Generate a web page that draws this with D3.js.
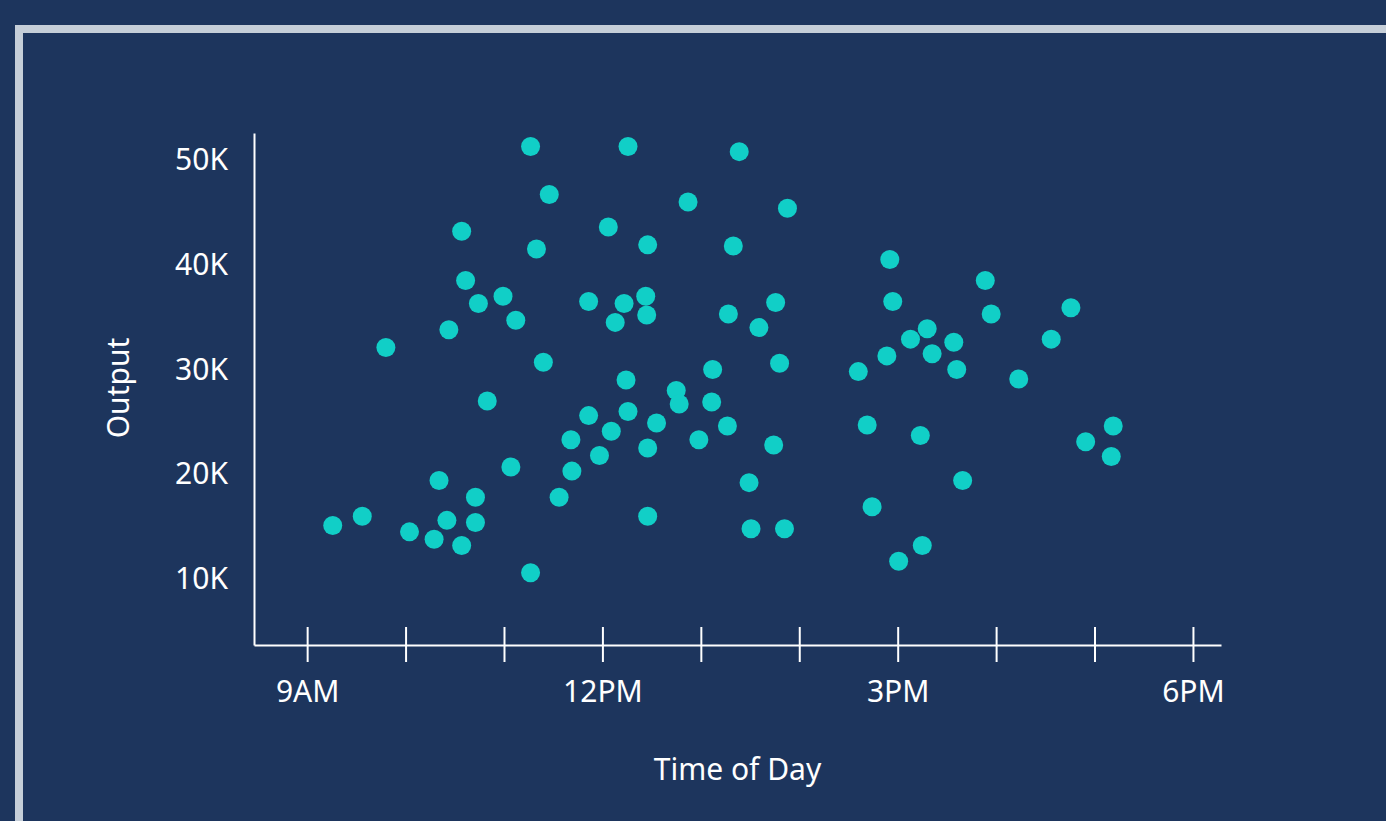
<!DOCTYPE html>
<html>
<head>
<meta charset="utf-8">
<script src="https://cdn.jsdelivr.net/npm/d3@7"></script>
<style>
  html, body { margin: 0; padding: 0; background: #1d355d; overflow: hidden; }
  svg text { font-family: "Source Sans Pro", "Noto Sans", sans-serif; fill: #ffffff; }
</style>
</head>
<body>
<div class="chart"></div>
<script>
// Hour of day (decimal) for each reading
var timeOfDay = [9.26, 9.56, 9.80, 10.04, 10.29, 10.34, 10.42, 10.44, 10.57, 10.57,
    10.61, 10.71, 10.71, 10.74, 10.83, 10.99, 11.07, 11.12, 11.27, 11.27,
    11.33, 11.40, 11.46, 11.56, 11.68, 11.69, 11.86, 11.86, 11.97, 12.06,
    12.09, 12.13, 12.22, 12.24, 12.26, 12.26, 12.44, 12.45, 12.46, 12.46,
    12.46, 12.55, 12.75, 12.78, 12.87, 12.98, 13.11, 13.12, 13.27, 13.28,
    13.33, 13.39, 13.49, 13.51, 13.59, 13.74, 13.76, 13.80, 13.85, 13.88,
    14.60, 14.69, 14.74, 14.89, 14.92, 14.95, 15.01, 15.13, 15.23, 15.25,
    15.30, 15.35, 15.57, 15.60, 15.66, 15.89, 15.95, 16.23, 16.56, 16.76,
    16.91, 17.17, 17.19];

// Output value for each reading
var output = [15100, 16000, 32100, 14500, 13800, 19400, 15600, 33800, 43200, 13200,
    38500, 17800, 15400, 36300, 27000, 37000, 20700, 34700, 51300, 10600,
    41500, 30700, 46700, 17800, 23300, 20300, 36500, 25600, 21800, 43600,
    24100, 34500, 36300, 29000, 26000, 51300, 37000, 35200, 41900, 22500,
    16000, 24900, 28000, 26700, 46000, 23300, 26900, 30000, 24600, 35300,
    41800, 50800, 19200, 14800, 34000, 22800, 36400, 30600, 14800, 45400,
    29800, 24700, 16900, 31300, 40500, 36500, 11700, 32900, 23700, 13200,
    33900, 31500, 32600, 30000, 19400, 38500, 35300, 29100, 32900, 35900,
    23100, 21700, 24600];

var xTicks = [9, 10, 11, 12, 13, 14, 15, 16, 17, 18];
var xTickLabels = { 9: "9AM", 12: "12PM", 15: "3PM", 18: "6PM" };
var yTicks = [10000, 20000, 30000, 40000, 50000];
var yTickLabels = ["10K", "20K", "30K", "40K", "50K"];

var width = 1386;
var height = 821;
var margin = ({ top: 133, right: 165, bottom: 176, left: 254 });

var points = timeOfDay.map((t, i) => ({ t: t, v: output[i] }));

const svg = d3.select("div.chart")
    .append("svg")
    .attr("width", width)
    .attr("height", height);

// Background and the light frame that runs off the right and bottom
svg.append("rect")
    .attr("width", width)
    .attr("height", height)
    .attr("fill", "#1d355d");
svg.append("rect")
    .attr("x", 19)
    .attr("y", 29)
    .attr("width", width + 100)
    .attr("height", height + 100)
    .attr("fill", "none")
    .attr("stroke", "#c5ced8")
    .attr("stroke-width", 8);

// Scales
var x = d3.scaleLinear()
    .domain([8.46, 18.285])
    .range([margin.left, width - margin.right]);
var y = d3.scaleLinear()
    .domain([3700, 52580])
    .range([height - margin.bottom, margin.top]);

// Axes
var xAxis = g => g
    .attr("transform", `translate(0,${height - margin.bottom})`)
    .call(d3.axisBottom(x)
        .tickValues(xTicks)
        .tickSize(17)
        .tickSizeOuter(0)
        .tickPadding(19)
        .tickFormat(d => xTickLabels[d] || ""))
    .call(g => g.select(".domain")
        .attr("stroke", "#ffffff")
        .attr("stroke-width", 2))
    .call(g => g.selectAll(".tick line")
        .attr("stroke", "#ffffff")
        .attr("stroke-width", 2)
        .attr("y1", -18))
    .call(g => g.selectAll(".tick text")
        .style("font-size", "30px"));

var yAxis = g => g
    .attr("transform", `translate(${margin.left},0)`)
    .call(d3.axisLeft(y)
        .tickValues(yTicks)
        .tickSize(0)
        .tickSizeOuter(0)
        .tickPadding(26)
        .tickFormat((d, i) => yTickLabels[i]))
    .call(g => g.select(".domain")
        .attr("stroke", "#ffffff")
        .attr("stroke-width", 2))
    .call(g => g.selectAll(".tick text")
        .style("font-size", "30px"));

svg.append("g").call(xAxis);
svg.append("g").call(yAxis);

// Dots
svg.append("g")
    .selectAll("circle")
    .data(points)
    .join("circle")
      .attr("cx", d => x(d.t))
      .attr("cy", d => y(d.v))
      .attr("r", 9.5)
      .attr("fill", "#11cfc7");

// Axis titles
svg.append("text")
    .attr("x", (margin.left + width - margin.right) / 2)
    .attr("y", 780)
    .attr("text-anchor", "middle")
    .style("font-size", "30px")
    .text("Time of Day");

svg.append("text")
    .attr("transform", "translate(129,388) rotate(-90)")
    .attr("text-anchor", "middle")
    .style("font-size", "30px")
    .text("Output");
</script>
</body>
</html>
